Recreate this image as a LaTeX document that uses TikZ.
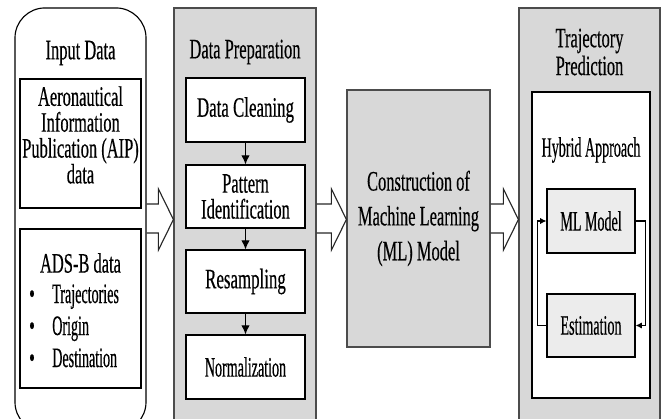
\documentclass[tikz,border=0pt]{standalone}
\usepackage{fontspec}
\setmainfont{Liberation Serif}[FakeStretch=0.585, FakeBold=0.4]
\newfontfamily\narrowfont{Liberation Serif}[FakeStretch=0.5, FakeBold=0.4]
\newfontfamily\widefont{Liberation Serif}[FakeStretch=0.6, FakeBold=0.4]
\usepackage{tikz}
\usetikzlibrary{arrows.meta}
\usetikzlibrary{calc}
\usetikzlibrary{positioning}

\definecolor{panelgray}{RGB}{216,216,216}
\definecolor{boxgray}{RGB}{236,236,236}

\begin{document}
\begin{tikzpicture}[
  x=0.025cm, y=-0.025cm,
  > = {Latex[length=6.5pt,width=6pt]},
  every node/.style = {font=\fontsize{20}{18.4}\selectfont, inner sep=0pt},
  narrow/.style = {font=\narrowfont\fontsize{20}{22.7}\selectfont},
  wide/.style = {font=\widefont\fontsize{20}{18.4}\selectfont},
  box/.style = {draw, line width=0.8pt, fill=white},
  panel/.style = {draw=black!70, line width=0.8pt, fill=panelgray},
  inbox/.style = {draw, line width=0.8pt, fill=boxgray},
  flow/.style = {->, line width=0.8pt},
  loopflow/.style = {-{Latex[length=4.5pt,width=4.5pt]}, line width=0.8pt},
  blockarrow/.style = {line width=0.8pt, draw=black!85}
  ]
	\useasboundingbox (0,0) rectangle (662,419);

	% input data
	\node[box, rounded corners=0.75cm, minimum width=3.275cm, minimum height=10.6cm] (inpt) at (80.5,220) {};
	\node (inptttl) at (80.5,53) {Input Data};
	\node[box, minimum width=3.025cm, minimum height=3.225cm] (aip) at (80.5,143.5) {};
	\node[align=center] (aiptxt) at (80.5,135) {Aeronautical\\Information\\Publication (AIP)\\data};
	\node[box, minimum width=3.025cm, minimum height=3.975cm] (adsb) at (80.5,308.5) {};
	\node (adsbttl) at (80.5,263) {ADS-B data};
	\foreach \lbl [count=\i] in {Trajectories, Origin, Destination} {
		\node[anchor=base] (dot\i) at (32,271+32*\i) {\textbullet};
		\node[narrow, anchor=base west] (item\i) at (52,271+32*\i) {\lbl};
	}

	% data preparation
	\node[panel, minimum width=3.55cm, minimum height=10.55cm] (dprep) at (245,219) {};
	\node (dprepttl) at (245,52) {Data Preparation};
	\node[box, wide, minimum width=2.975cm, minimum height=1.6cm] (clean) at (245.5,110) {Data Cleaning};
	\node[box, minimum width=2.975cm, minimum height=1.575cm, align=center] (pattern) at (245.5,196.5) {Pattern\\Identification};
	\node[box, wide, minimum width=2.975cm, minimum height=1.575cm] (resamp) at (245.5,281.5) {Resampling};
	\node[box, narrow, minimum width=2.975cm, minimum height=1.6cm] (norm) at (245.5,367) {Normalization};
	\draw[flow] (clean) -- (pattern);
	\draw[flow] (pattern) -- (resamp);
	\draw[flow] (resamp) -- (norm);

	% model construction
	\node[panel, minimum width=3.575cm, minimum height=6.425cm, align=center, font=\fontsize{20}{24.8}\selectfont] (mlc) at (418.5,218.5) {Construction of\\Machine Learning\\(ML) Model};

	% trajectory prediction
	\node[panel, minimum width=3.525cm, minimum height=10.55cm] (traj) at (589.5,219) {};
	\node[align=center, font=\fontsize{20}{19.8}\selectfont] (trajttl) at (589.5,52) {Trajectory\\Prediction};
	\node[box, minimum width=2.95cm, minimum height=7.65cm] (hybrid) at (591,245) {};
	\node[narrow] (hybttl) at (591,150) {Hybrid Approach};
	\node[inbox, narrow, minimum width=2.2cm, minimum height=1.6cm] (mlmod) at (591,221) {ML Model};
	\node[inbox, narrow, minimum width=2.2cm, minimum height=1.575cm] (estim) at (591,325.5) {Estimation};
	\draw[loopflow] (mlmod.east) -- ++(10,0) |- (estim.east);
	\draw[loopflow] (estim.west) -- ++(-9,0) |- (mlmod.west);

	% hollow arrows between stages
	\foreach \a/\b in {inpt/dprep, dprep/mlc, mlc/traj} {
		\path (\a.east |- 0,204) coordinate (s1) (\a.east |- 0,233) coordinate (s2) (\b.west |- 0,219.5) coordinate (tip);
		\draw[blockarrow] (s1) -- ($(tip)+(-15,-15.5)$) -- ($(tip)+(-15,-30.5)$) -- (tip) -- ($(tip)+(-15,30.5)$) -- ($(tip)+(-15,13.5)$) -- (s2);
	}
\end{tikzpicture}
\end{document}
